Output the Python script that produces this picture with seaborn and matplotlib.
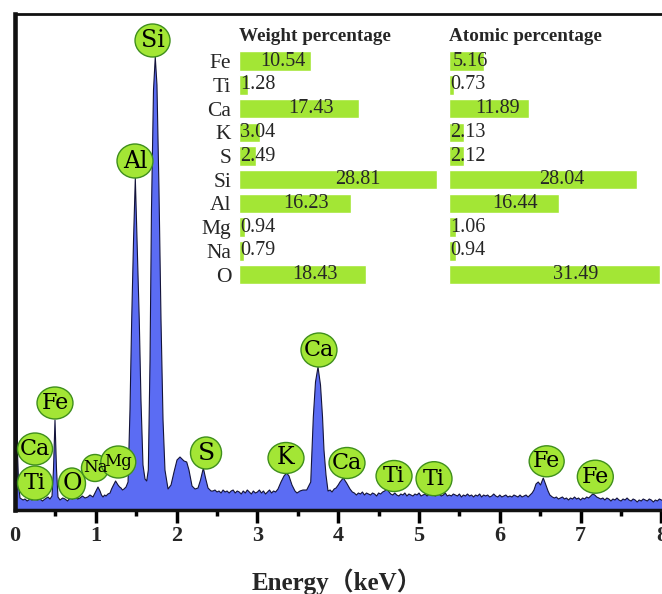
import numpy as np
import pandas as pd
import matplotlib
matplotlib.use("Agg")
import matplotlib.pyplot as plt
from matplotlib.patches import Ellipse
import seaborn as sns

# ---- EDS spectrum (energy in keV, intensity in counts) ----
energy_kev = [
    # zero-energy strobe and low-energy region
    0.000, 0.015, 0.030, 0.045, 0.062, 0.100, 0.124, 0.150, 0.186, 0.210,
    0.248, 0.275, 0.309, 0.340, 0.371, 0.408, 0.433, 0.458, 0.476, 0.495,
    0.514, 0.532, 0.557, 0.590, 0.619, 0.650, 0.681, 0.710, 0.743, 0.775,
    0.804, 0.835, 0.866, 0.900, 0.928, 0.965, 1.002, 1.027, 1.052, 1.070,
    1.089, 1.110, 1.126, 1.150, 1.176, 1.195, 1.213, 1.245, 1.275, 1.295,
    1.312, 1.330, 1.349, 1.374, 1.399,
    # Al and Si K lines
    1.423, 1.444, 1.467, 1.489, 1.510, 1.538, 1.559, 1.584, 1.609, 1.630,
    1.650, 1.671, 1.689, 1.714, 1.736, 1.757, 1.782, 1.807, 1.832, 1.856,
    1.894, 1.931, 1.968, 2.005, 2.042, 2.067, 2.092, 2.125, 2.153, 2.191,
    2.228, 2.265, 2.296, 2.331, 2.358, 2.389, 2.426,
    # background up to K
    2.450, 2.475, 2.500, 2.525, 2.550, 2.575, 2.600, 2.625, 2.650, 2.675,
    2.700, 2.725, 2.750, 2.775, 2.800, 2.825, 2.850, 2.875, 2.900, 2.925,
    2.950, 2.975, 3.000, 3.025, 3.050, 3.075, 3.100, 3.125, 3.150, 3.175,
    3.200, 3.225,
    # K and Ca lines
    3.255, 3.292, 3.329, 3.362, 3.391, 3.428, 3.465, 3.490, 3.527, 3.564,
    3.610, 3.660, 3.676, 3.692, 3.719, 3.750, 3.781, 3.806, 3.824, 3.849,
    3.874, 3.900, 3.923, 3.950, 3.973, 4.000, 4.022, 4.063, 4.104, 4.146,
    4.175,
    # background with Ti lines
    4.200, 4.225, 4.250, 4.275, 4.300, 4.325, 4.350, 4.375, 4.400, 4.425,
    4.450, 4.475, 4.500, 4.525, 4.550, 4.575, 4.600, 4.629, 4.650, 4.675,
    4.700, 4.725, 4.750, 4.775, 4.800, 4.825, 4.850, 4.875, 4.900, 4.925,
    4.950, 4.975, 5.000, 5.025, 5.050, 5.075, 5.100, 5.125, 5.150, 5.175,
    5.200, 5.225, 5.250, 5.275, 5.300, 5.325, 5.350, 5.375, 5.400, 5.425,
    5.450, 5.475, 5.500, 5.525, 5.550, 5.575, 5.600, 5.625, 5.650, 5.675,
    5.700, 5.725, 5.750, 5.775, 5.800, 5.825, 5.850, 5.875, 5.900, 5.925,
    5.950, 5.975, 6.000, 6.025, 6.050, 6.075, 6.100, 6.125, 6.150, 6.175,
    6.200, 6.225, 6.250, 6.275, 6.300, 6.325, 6.350, 6.375,
    # Fe K lines and high-energy tail
    6.400, 6.423, 6.448, 6.476, 6.504, 6.538, 6.566, 6.597, 6.620, 6.650,
    6.675, 6.700, 6.725, 6.750, 6.775, 6.800, 6.825, 6.850, 6.875, 6.900,
    6.925, 6.950, 6.975, 7.000, 7.025, 7.050, 7.075, 7.100, 7.125, 7.150,
    7.175, 7.200, 7.225, 7.250, 7.275, 7.300, 7.325, 7.350, 7.375, 7.400,
    7.425, 7.450, 7.475, 7.500, 7.525, 7.550, 7.575, 7.600, 7.625, 7.650,
    7.675, 7.700, 7.725, 7.750, 7.775, 7.800, 7.825, 7.850, 7.875, 7.900,
    7.925, 7.950, 7.975, 8.000, 8.025, 8.050, 8.100, 8.150, 8.200, 8.300,
]
counts = [
    700, 300, 60, 25, 12, 10, 11, 9, 11, 10,
    12, 10, 11, 9, 11, 13, 11, 14, 40, 90,
    40, 13, 10, 12, 11, 9, 12, 11, 13, 11,
    12, 14, 12, 13, 15, 13, 19, 23, 19, 15,
    13, 15, 14, 16, 17, 21, 24, 29, 25, 23,
    22, 20, 21, 23, 28,
    100, 190, 270, 332, 270, 190, 110, 45, 31, 29,
    40, 150, 300, 420, 453, 425, 320, 190, 90, 40,
    21, 25, 38, 50, 53, 51, 49, 48, 40, 24,
    21, 22, 30, 42, 32, 22, 19,
    19, 20, 18, 19, 17, 20, 18, 19, 17, 19,
    20, 17, 19, 18, 16, 19, 17, 20, 18, 16,
    19, 17, 18, 20, 17, 19, 16, 18, 20, 17,
    19, 18,
    21, 28, 34, 37, 34, 25, 19, 17, 19, 20,
    20, 28, 60, 93, 128, 143, 125, 93, 60, 35,
    19, 20, 18, 21, 22, 25, 28, 32, 27, 21,
    18,
    17, 15, 17, 16, 18, 15, 17, 16, 15, 17,
    16, 14, 17, 16, 18, 19, 21, 18, 16, 15,
    17, 15, 14, 16, 15, 17, 14, 16, 15, 14,
    16, 15, 17, 14, 15, 16, 14, 16, 15, 17,
    14, 15, 16, 14, 15, 17, 14, 15, 14, 16,
    15, 14, 16, 13, 15, 14, 16, 14, 15, 13,
    15, 14, 16, 13, 15, 14, 15, 13, 14, 16,
    14, 13, 15, 13, 14, 15, 13, 14, 13, 15,
    14, 13, 15, 13, 14, 15, 13, 15,
    17, 20, 26, 28, 25, 32, 26, 19, 15, 13,
    12, 13, 11, 12, 13, 11, 12, 10, 12, 11,
    13, 11, 12, 10, 12, 11, 13, 12, 14, 16,
    15, 13, 12, 11, 12, 10, 12, 11, 9, 11,
    10, 12, 10, 9, 11, 10, 12, 10, 9, 11,
    10, 8, 10, 9, 11, 10, 9, 11, 10, 8,
    10, 9, 11, 10, 9, 10, 9, 10, 9, 10,
]

# ---- composition table ----
elements = ["Fe", "Ti", "Ca", "K", "S", "Si", "Al", "Mg", "Na", "O"]
weight_pct = [10.54, 1.28, 17.43, 3.04, 2.49, 28.81, 16.23, 0.94, 0.79, 18.43]
atomic_pct = [5.16, 0.73, 11.89, 2.13, 2.12, 28.04, 16.44, 1.06, 0.94, 31.49]

# ---- peak identification labels ----
peak_names = ["Ca", "Ti", "Fe", "O", "Na", "Mg", "Al", "Si", "S", "K",
              "Ca", "Ca", "Ti", "Ti", "Fe", "Fe"]
# bubble centre (keV, counts), bubble size (keV, counts), font size
bubble_layout = [
    (0.248, 61, 0.433, 32, 16),
    (0.248, 27, 0.433, 34, 16),
    (0.495, 107, 0.445, 32, 16),
    (0.705, 26.5, 0.335, 31, 17),
    (0.990, 42, 0.335, 27, 12),
    (1.278, 48, 0.433, 32, 12),
    (1.485, 349, 0.445, 34, 17),
    (1.702, 469.5, 0.433, 33, 17),
    (2.364, 57, 0.384, 32, 18),
    (3.354, 52, 0.445, 31, 17),
    (3.762, 160, 0.445, 34, 16),
    (4.109, 47, 0.445, 31, 16),
    (4.691, 34, 0.445, 31, 16),
    (5.186, 31.3, 0.445, 34, 16),
    (6.580, 48.7, 0.433, 31, 16),
    (7.182, 33.3, 0.445, 33, 16),
]

LIME = "#a3e635"
BUBBLE_EDGE = "#3f8f1c"
SPEC_FILL = "#5b6cf3"
SERIF = "Liberation Serif"

sns.set_style("ticks")
plt.rcParams["font.family"] = [SERIF, "Noto Sans CJK SC", "DejaVu Sans"]

W, H = 662, 594
fig = plt.figure(figsize=(W / 100, H / 100), dpi=100)
fig.patch.set_facecolor("white")

# main spectrum axes (extends past the right edge of the canvas)
px_per_kev = 80.8
x_max = 8.3
ax = fig.add_axes([15 / W, 84 / H, x_max * px_per_kev / W, 496 / H])
ax.set_facecolor("white")

spec = pd.DataFrame({"Energy (keV)": energy_kev, "Counts": counts})
ax.fill_between(spec["Energy (keV)"], spec["Counts"], 0, color=SPEC_FILL,
                lw=0, zorder=1)
sns.lineplot(data=spec, x="Energy (keV)", y="Counts", ax=ax, color="#14143a",
             lw=0.8, sort=False, estimator=None, zorder=2)

ax.set_xlim(0, x_max)
ax.set_ylim(0, 496)
ax.set_xticks(range(0, 9))
ax.set_xticks(np.arange(0.5, 8.3, 1.0), minor=True)
ax.set_yticks([])
ax.set_ylabel("")
ax.tick_params(axis="x", which="major", direction="out", length=9, width=2.5,
               color="black", pad=2.2)
ax.tick_params(axis="x", which="minor", direction="out", length=4.5,
               width=2.5, color="black")
ax.xaxis.get_major_ticks()[0].tick1line.set_visible(False)
for lab in ax.get_xticklabels():
    lab.set_fontfamily(SERIF)
    lab.set_fontweight("bold")
    lab.set_fontsize(16)

for side, lw in (("left", 3.3), ("bottom", 2.5), ("top", 2.0), ("right", 2.0)):
    ax.spines[side].set_linewidth(lw)
    ax.spines[side].set_color("#111111")

ax.set_xlabel("Energy（keV）", fontsize=18, fontweight="bold",
              family=[SERIF, "Noto Sans CJK SC"])
ax.xaxis.set_label_coords((337 - 15) / (x_max * px_per_kev), -0.117)

# peak bubbles
for name, (cx, cy, bw, bh, fs) in zip(peak_names, bubble_layout):
    ax.add_patch(Ellipse((cx, cy), bw, bh, facecolor=LIME,
                         edgecolor=BUBBLE_EDGE, lw=1.0, zorder=5))
    ax.text(cx, cy, name, ha="center", va="center", fontsize=fs,
            family="DejaVu Serif", color="black", zorder=6)


# composition bar panels
def composition_panel(left_px, px_per_unit, xmax, values, show_names, title):
    top_px, row_px = 49.35, 23.7
    height_px = row_px * len(elements)
    axp = fig.add_axes([left_px / W, (H - top_px - height_px) / H,
                        xmax * px_per_unit / W, height_px / H])
    sns.barplot(x=values, y=elements, orient="h", color=LIME, saturation=1,
                width=0.82, ax=axp)
    axp.set_xlim(0, xmax)
    axp.set_ylim(len(elements) - 0.5, -0.5)
    axp.patch.set_alpha(0)
    for s in axp.spines.values():
        s.set_visible(False)
    axp.set_xticks([])
    axp.set_xlabel("")
    axp.set_ylabel("")
    axp.tick_params(axis="y", length=0, pad=5.5)
    if show_names:
        for lab in axp.get_yticklabels():
            lab.set_fontfamily(SERIF)
            lab.set_fontsize(15.5)
    else:
        axp.set_yticklabels([])
    for i, v in enumerate(values):
        txt = f"{v:.2f}"
        if v >= 5:
            axp.text(v * 0.6, i, txt, ha="center", va="center",
                     fontsize=14.5, family=SERIF)
        else:
            axp.text(0.15, i, txt, ha="left", va="center",
                     fontsize=14.5, family=SERIF)
    fig.text(left_px / W, (H - 41) / H, title, ha="left", va="baseline",
             fontsize=13.8, fontweight="bold", family=SERIF)
    return axp


composition_panel(239, 6.87, 30.0, weight_pct, True, "Weight percentage")
composition_panel(449.3, 6.7, 32.5, atomic_pct, False, "Atomic percentage")

fig.savefig("out.png", dpi=100)
